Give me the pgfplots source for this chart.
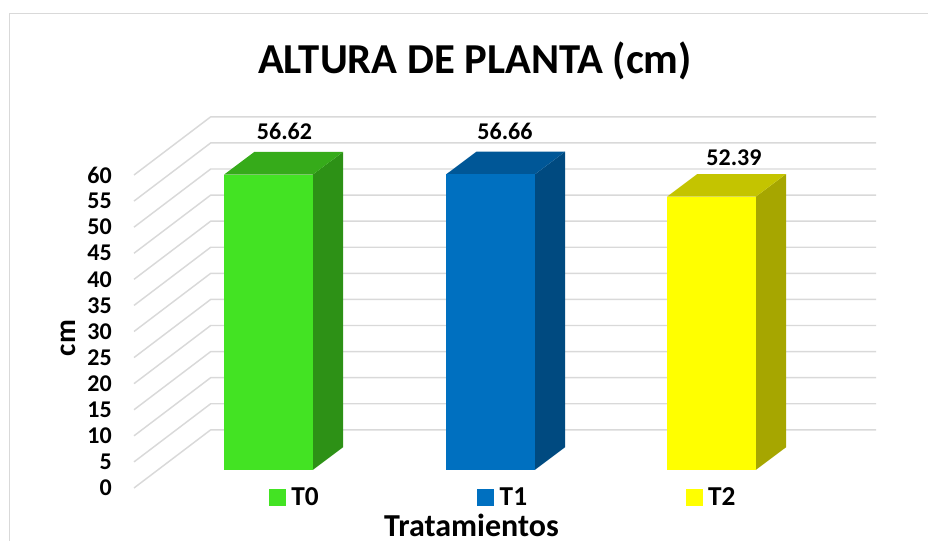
\documentclass[border=0pt]{standalone}
\usepackage{fontspec}
\setmainfont{Carlito}
\usepackage{pgfplots}
\pgfplotsset{compat=1.18}
\definecolor{gridc}{HTML}{D9D9D9}
\definecolor{gf}{HTML}{43E323}
\definecolor{gs}{HTML}{2D9116}
\definecolor{gt}{HTML}{36AB1A}
\definecolor{bf}{HTML}{0070C0}
\definecolor{bs}{HTML}{004A80}
\definecolor{bt}{HTML}{005797}
\definecolor{yf}{HTML}{FFFF00}
\definecolor{ys}{HTML}{A6A600}
\definecolor{yt}{HTML}{C4C400}
\begin{document}
\begin{tikzpicture}
\useasboundingbox (0,0) rectangle (696pt,405.75pt);
% full-canvas axis for frame and texts (pixel coordinates)
\begin{axis}[at={(0pt,0pt)},anchor=south west,scale only axis,width=696pt,height=405.75pt,
  xmin=0,xmax=928,ymin=0,ymax=541,y dir=reverse,hide axis,clip=false]
\addplot[gridc,line width=1pt,forget plot] coordinates {(9.5,541) (9.5,13.5) (928,13.5)};
\node[font=\bfseries\fontsize{32}{34}\selectfont] at (axis cs:475,61) {ALTURA DE PLANTA (cm)};
\node[font=\bfseries\fontsize{24}{24}\selectfont,inner sep=0pt] at (axis cs:471.5,525.5) {Tratamientos};
\node[font=\bfseries\fontsize{22}{24}\selectfont,rotate=90] at (axis cs:68,338) {cm};
\end{axis}
% value axis and walls
\begin{axis}[at={(100.5pt,39.75pt)},anchor=south west,scale only axis,width=556.5pt,height=234.75pt,
  xmin=134,xmax=876,ymin=0,ymax=60,clip=false,
  axis x line=none,axis y line=left,y axis line style={draw=none},
  xtick=\empty,ytick={0,5,...,60},major tick length=0pt,
  /pgf/number format/assume math mode=true,
  yticklabel style={font=\bfseries\fontsize{18}{19}\selectfont,inner sep=0pt,xshift=-16.5pt,text=black},
  unbounded coords=jump]
\addplot[gridc,line width=1.1pt,forget plot] table[row sep=\\] {
x y\\
134 0\\ 210.7 11.15\\ 876 11.15\\ nan nan\\
134 5\\ 210.7 16.15\\ 876 16.15\\ nan nan\\
134 10\\ 210.7 21.15\\ 876 21.15\\ nan nan\\
134 15\\ 210.7 26.15\\ 876 26.15\\ nan nan\\
134 20\\ 210.7 31.15\\ 876 31.15\\ nan nan\\
134 25\\ 210.7 36.15\\ 876 36.15\\ nan nan\\
134 30\\ 210.7 41.15\\ 876 41.15\\ nan nan\\
134 35\\ 210.7 46.15\\ 876 46.15\\ nan nan\\
134 40\\ 210.7 51.15\\ 876 51.15\\ nan nan\\
134 45\\ 210.7 56.15\\ 876 56.15\\ nan nan\\
134 50\\ 210.7 61.15\\ 876 61.15\\ nan nan\\
134 55\\ 210.7 66.15\\ 876 66.15\\ nan nan\\
134 60\\ 210.7 71.15\\ 876 71.15\\
};
\end{axis}
% bars
\begin{axis}[at={(100.5pt,39.75pt)},anchor=south west,scale only axis,width=556.5pt,height=234.75pt,
  xmin=134,xmax=876,ymin=-3.45,ymax=56.55,clip=false,hide axis,
  legend columns=3,
  legend style={draw=none,fill=none,anchor=north west,
    font=\bfseries\fontsize{20.5}{22}\selectfont,inner sep=0pt,outer sep=0pt,
    at={(axis cs:269,-2.9)},
    /tikz/every even column/.append style={column sep=117pt}},
  legend cell align=left]
% side and top faces
\addplot[fill=gs,draw=none,forget plot] coordinates {(312.7,0) (343,4.35) (343,60.97) (312.7,56.62)};
\addplot[fill=gt,draw=none,forget plot] coordinates {(224,56.62) (254.3,60.97) (343,60.97) (312.7,56.62)};
\addplot[fill=bs,draw=none,forget plot] coordinates {(534.7,0) (565,4.35) (565,61.01) (534.7,56.66)};
\addplot[fill=bt,draw=none,forget plot] coordinates {(446,56.66) (476.3,61.01) (565,61.01) (534.7,56.66)};
\addplot[fill=ys,draw=none,forget plot] coordinates {(755.7,0) (786,4.35) (786,56.74) (755.7,52.39)};
\addplot[fill=yt,draw=none,forget plot] coordinates {(667,52.39) (697.3,56.74) (786,56.74) (755.7,52.39)};
% front faces
\addplot[ybar,bar width=66.5pt,bar shift=0pt,fill=gf,draw=none,area legend,
  legend image code/.code={\fill[gf] (0pt,-6.4pt) rectangle (12.75pt,6.4pt);}] coordinates {(268.35,56.62)};
\addlegendentry{\hspace*{2pt}T0}
\addplot[ybar,bar width=66.5pt,bar shift=0pt,fill=bf,draw=none,area legend,
  legend image code/.code={\fill[bf] (0pt,-6.4pt) rectangle (12.75pt,6.4pt);}] coordinates {(490.35,56.66)};
\addlegendentry{\hspace*{2pt}T1}
\addplot[ybar,bar width=66.5pt,bar shift=0pt,fill=yf,draw=none,area legend,
  legend image code/.code={\fill[yf] (0pt,-6.4pt) rectangle (12.75pt,6.4pt);}] coordinates {(711.35,52.39)};
\addlegendentry{\hspace*{2pt}T2}
% data labels
\addplot[draw=none,forget plot,point meta=explicit symbolic,
  nodes near coords,nodes near coords align={center},
  every node near coord/.append style={font=\bfseries\fontsize{18}{19}\selectfont,text=black}]
  coordinates {(284.5,65)[56.62] (505,65)[56.66] (734,59.9)[52.39]};
\end{axis}
\end{tikzpicture}
\end{document}
